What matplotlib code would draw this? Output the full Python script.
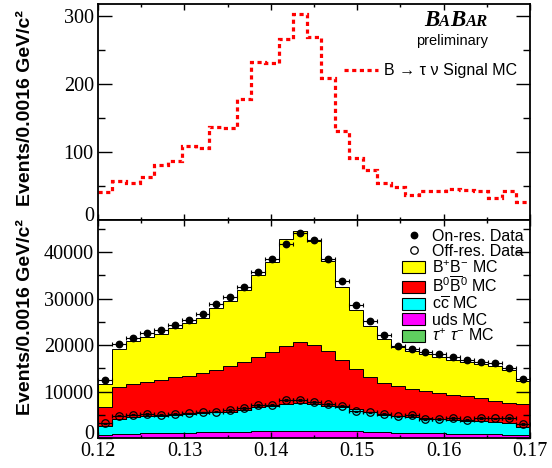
import numpy as np
import matplotlib
matplotlib.use("Agg")
import matplotlib.pyplot as plt
from matplotlib.lines import Line2D
from matplotlib.patches import Patch
from matplotlib.ticker import MultipleLocator
from matplotlib.transforms import ScaledTranslation
from matplotlib.offsetbox import TextArea, HPacker, AnnotationBbox

plt.rcParams['font.family'] = ['Liberation Sans', 'DejaVu Sans']
plt.rcParams['mathtext.fontset'] = 'custom'
plt.rcParams['mathtext.rm'] = 'Liberation Sans'
plt.rcParams['mathtext.it'] = 'Liberation Sans:italic'
plt.rcParams['mathtext.bf'] = 'Liberation Sans:bold'

# ---------- data (31 bins of 0.0016 GeV/c^2 between 0.12 and 0.17) ----------
x_lo, x_hi, n_bins = 0.12, 0.17, 31

signal_mc = [41, 57, 55, 63, 80, 87, 109, 105, 137, 135, 178, 232, 231, 265, 303,
             268, 208, 130, 91, 73, 54, 48, 37, 43, 43, 46, 44, 42, 32, 42, 26]

on_res = [12470, 20215, 21570, 22580, 23225, 24370, 25450, 26670, 28740, 30390,
          32400, 35770, 38430, 41720, 44020, 42650, 38560, 33830, 28600, 25160,
          22150, 19850, 19200, 18500, 18000, 17350, 16700, 16410, 16060, 15120, 12690]

off_res = [3160, 4800, 5010, 5160, 5010, 5160, 5300, 5530, 5660, 6020, 6500,
           7160, 7160, 8170, 8240, 7810, 7310, 6950, 5740, 5530, 5160, 4670,
           4950, 4090, 4090, 4300, 3870, 4300, 4240, 4300, 3010]

# MC components (stacked bottom -> top)
tautau_mc = [40, 60, 60, 70, 70, 70, 80, 80, 80, 90, 90, 90, 100, 100, 100, 100,
             100, 90, 90, 90, 80, 80, 80, 70, 70, 70, 60, 60, 60, 50, 40]
uds_mc = [560, 840, 890, 930, 980, 1030, 1070, 1120, 1170, 1210, 1260, 1310, 1350,
          1400, 1450, 1450, 1400, 1360, 1310, 1210, 1120, 1070, 1020, 980, 930,
          880, 840, 790, 740, 700, 560]
ccbar_mc = [2050, 3190, 3500, 3670, 3750, 3850, 4010, 4100, 4280, 4360, 4750, 5200,
            5500, 5810, 5910, 5760, 5450, 5150, 4840, 4230, 3810, 3650, 3350, 3190,
            3090, 2920, 2820, 2730, 2570, 2410, 1700]
b0b0_mc = [4080, 6810, 7160, 7300, 7670, 8100, 8240, 8610, 9090, 9890, 10250, 10890,
           11470, 12540, 13240, 12790, 11750, 10200, 8710, 7670, 6890, 6450, 6090,
           5800, 5590, 5450, 5240, 5020, 4660, 4370, 5010]
bpbm_mc = [4870, 8240, 9180, 9680, 9900, 10610, 11330, 11830, 13270, 13980, 15480,
           17560, 19360, 22950, 23880, 22200, 19400, 15600, 12650, 10800, 9300, 8250,
           8100, 8020, 7670, 7450, 7310, 7310, 7390, 7090, 4880]

stack = [
    (tautau_mc, "#5fcf5f", r"$\tau^{+}$ $\tau^{-}$ MC"),
    (uds_mc, "#ff00ff", "uds MC"),
    (ccbar_mc, "#00ffff", r"c$\overline{\mathrm{c}}$ MC"),
    (b0b0_mc, "#ff0000", r"B$^{0}\overline{\mathrm{B}}^{0}$ MC"),
    (bpbm_mc, "#ffff00", r"B$^{+}$B$^{-}$ MC"),
]

top_yticks = [0, 100, 200, 300]
bot_yticks = [0, 10000, 20000, 30000, 40000]
xticks = [0.12, 0.13, 0.14, 0.15, 0.16, 0.17]

# ---------- layout ----------
W, H = 552, 468
fig = plt.figure(figsize=(W / 100, H / 100), dpi=100)
ax1 = fig.add_axes([98 / W, 1 - 220 / H, 432 / W, 216 / H])
ax2 = fig.add_axes([98 / W, 1 - 438 / H, 432 / W, 218 / H])

edges = np.linspace(x_lo, x_hi, n_bins + 1)
centers = 0.5 * (edges[:-1] + edges[1:])
half_w = 0.5 * (edges[1] - edges[0])

# top: signal MC
dots = (0, (1.3, 1.1))
ax1.stairs(signal_mc, edges, baseline=None, color="red", lw=2.3, linestyle=dots)
ax1.set_xlim(x_lo, x_hi)
ax1.set_ylim(0, 317)
ax1.set_yticks(top_yticks)
ax1.yaxis.set_minor_locator(MultipleLocator(50))
ax1.set_xticks(xticks)
ax1.tick_params(axis="x", labelbottom=False)

# bottom: stacked MC + data
base = np.zeros(n_bins)
for vals, col, _ in stack:
    top = base + np.array(vals)
    ax2.stairs(top, edges, baseline=base, fill=True, facecolor=col,
               edgecolor="black", lw=0.7)
    base = top

on = np.array(on_res)
off = np.array(off_res)
ax2.errorbar(centers, on, xerr=half_w, yerr=np.sqrt(on), fmt="o", color="black",
             ms=4.6, elinewidth=0.8, capsize=1.5, capthick=0.8)
ax2.errorbar(centers, off, xerr=half_w, yerr=2 * np.sqrt(off), fmt="o",
             mfc="none", mec="black", mew=0.9, ms=5.4, ecolor="black",
             elinewidth=0.8, capsize=1.5, capthick=0.8)
ax2.set_xlim(x_lo, x_hi)
ax2.set_ylim(0, 46900)
ax2.set_yticks(bot_yticks)
ax2.yaxis.set_minor_locator(MultipleLocator(5000))
ax2.set_xticks(xticks)
ax2.set_xticklabels(["%.2f" % v for v in xticks])

for ax in (ax1, ax2):
    ax.xaxis.set_minor_locator(MultipleLocator(0.005))
    ax.tick_params(which="both", direction="in", top=True, right=True,
                   width=1.0, labelsize=14.5, pad=3)
    ax.tick_params(axis="y", which="major", length=10)
    ax.tick_params(axis="y", which="minor", length=5)
    ax.tick_params(axis="x", which="major", length=4.5)
    ax.tick_params(axis="x", which="minor", length=2.5)
    for lab in ax.get_xticklabels() + ax.get_yticklabels():
        lab.set_family("Liberation Serif")
    for sp in ax.spines.values():
        sp.set_linewidth(1.3)
    # the "0" label sits a little above its tick, as in ROOT
    zero = ax.yaxis.get_major_ticks()[0].label1
    zero.set_transform(zero.get_transform() + ScaledTranslation(0, 4 / 72, fig.dpi_scale_trans))

# axis titles
ylab = "Events/0.0016 GeV/c\u00b2"
fig.text(26 / W, 1 - 108 / H, ylab, rotation=90, ha="center", va="center",
         fontsize=14, fontweight="bold")
fig.text(26 / W, 1 - 317 / H, ylab, rotation=90, ha="center", va="center",
         fontsize=14, fontweight="bold")

# BaBar logo
logo_font = dict(family="Liberation Serif", weight="bold", style="italic")
parts = [("B", 16.5), ("A", 12), ("B", 16.5), ("AR", 12)]
logo = HPacker(children=[TextArea(t, textprops=dict(fontsize=s, **logo_font))
                         for t, s in parts], align="baseline", pad=0, sep=0)
fig.add_artist(AnnotationBbox(logo, (456 / W, 1 - 21 / H), xycoords="figure fraction",
                              frameon=False, box_alignment=(0.5, 0.5)))
fig.text(452 / W, 1 - 41 / H, "preliminary", ha="center", va="center", fontsize=10.5)

# top legend
sig_handle = Line2D([], [], color="red", lw=2.3, linestyle=dots)
ax1.legend([sig_handle], ["B \u2192 \u03c4 \u03bd Signal MC"], loc="center left",
           bbox_to_anchor=(344 / W, 1 - 71 / H), bbox_transform=fig.transFigure,
           frameon=False, fontsize=11.5, handlelength=2.1, handletextpad=0.4,
           borderpad=0, borderaxespad=0)

# bottom legend
handles = [
    Line2D([], [], ls="none", marker="o", color="black", ms=4.6),
    Line2D([], [], ls="none", marker="o", mfc="none", mec="black", mew=0.9, ms=5.4),
]
labels = ["On-res. Data", "Off-res. Data"]
for vals, col, lab in reversed(stack):
    handles.append(Patch(facecolor=col, edgecolor="black", lw=0.8))
    labels.append(lab)
ax2.legend(handles, labels, loc="upper left", bbox_to_anchor=(402 / W, 1 - 229 / H),
           bbox_transform=fig.transFigure, frameon=False, fontsize=11.5,
           handlelength=1.45, handleheight=0.8, handletextpad=0.4,
           labelspacing=0.0, borderpad=0, borderaxespad=0)

fig.savefig("out.png", dpi=100)
